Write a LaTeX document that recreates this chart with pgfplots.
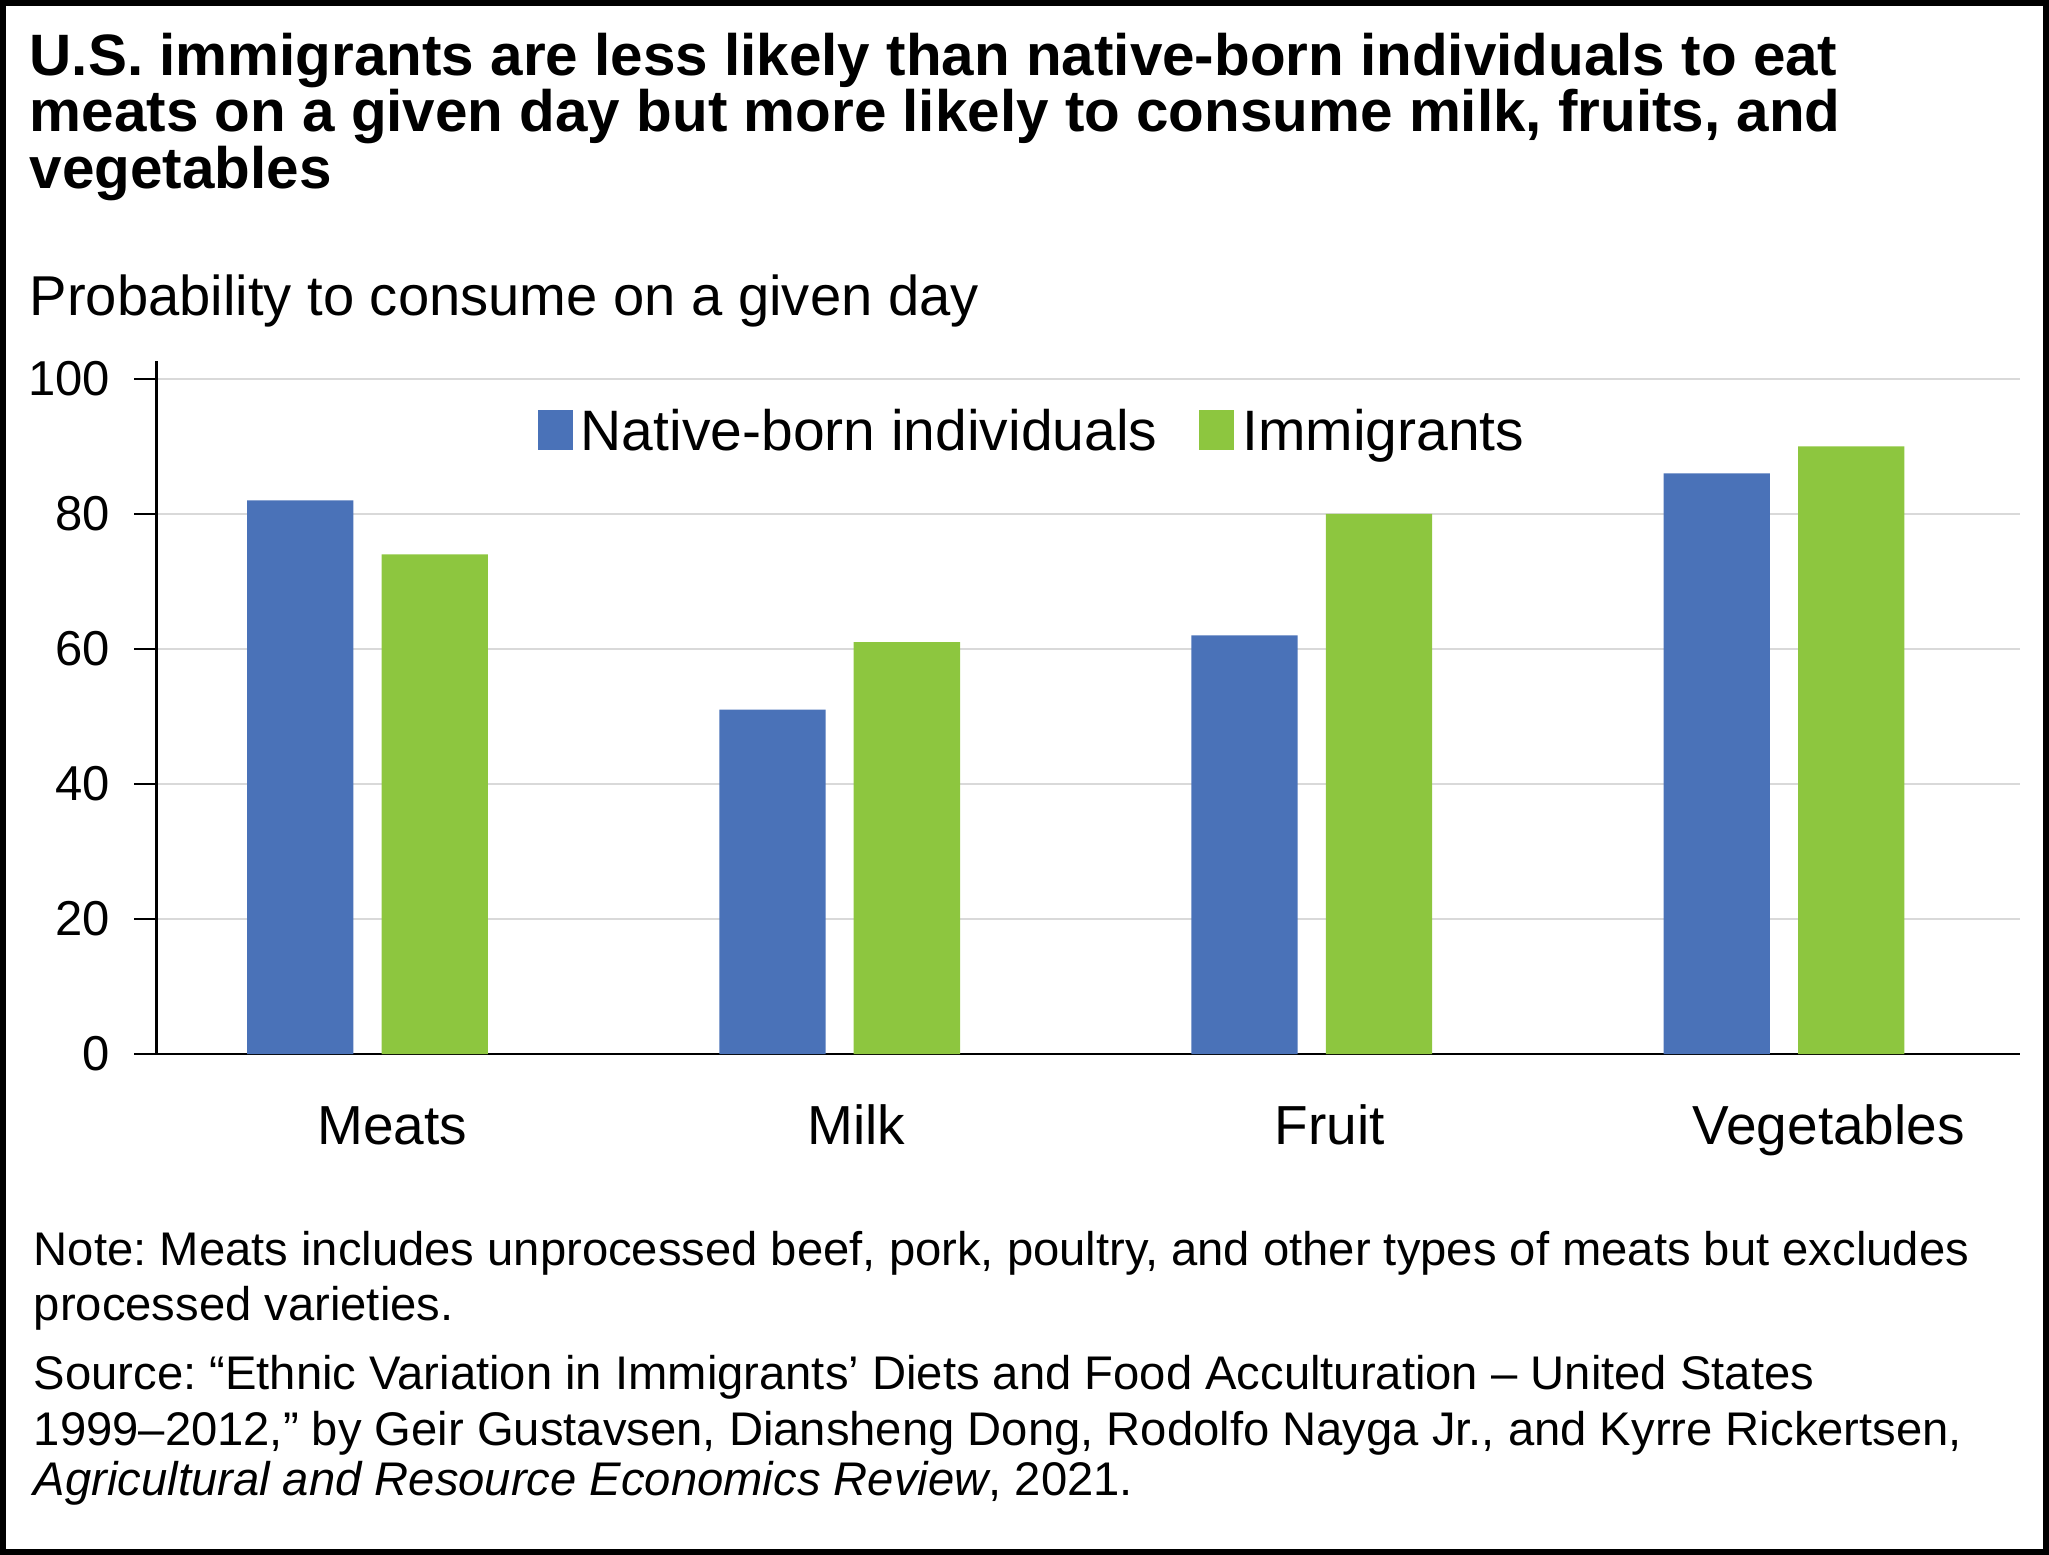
\documentclass[border=0pt]{standalone}
\usepackage{fontspec}
\setmainfont{Liberation Sans}
\usepackage{pgfplots}
\pgfplotsset{compat=1.18}
\definecolor{natblue}{HTML}{4A72B8}
\definecolor{immgreen}{HTML}{8DC63F}
\definecolor{gridgray}{HTML}{D9D9D9}
\frenchspacing
\begin{document}
\begin{tikzpicture}
\useasboundingbox (0,0) rectangle (512.25pt,-388.75pt);
\draw[line width=1.5pt] (0.75pt,-0.75pt) rectangle (511.5pt,-388pt);
% title
\begin{scope}[every node/.style={anchor=base west, inner sep=0pt, font=\fontsize{14.6}{17}\selectfont\bfseries}]
\node at (7.25pt,-18.75pt) {U.S. immigrants are less likely than native-born individuals to eat};
\node at (7.25pt,-32.93pt) {meats on a given day but more likely to consume milk, fruits, and};
\node at (7.25pt,-47pt) {vegetables};
\end{scope}
\node[anchor=base west, inner sep=0pt, font=\fontsize{14.04}{16}\selectfont] at (7.25pt,-78.75pt) {Probability to consume on a given day};
\begin{axis}[
  at={(39.125pt,-263.5pt)}, anchor=south west,
  scale only axis, width=465.875pt, height=173.33pt,
  xmin=-0.447, xmax=3.5, ymin=0, ymax=102.7,
  axis x line=bottom, axis y line=left,
  axis line style={-, line width=0.6pt, black},
  ytick={0,20,40,60,80,100},
  ymajorgrids, grid style={line width=0.5pt, gridgray},
  xtick={0.052,1.035,2.038,3.095},
  xticklabels={Meats,Milk,Fruit,Vegetables},
  x tick style={draw=none},
  y tick style={black, line width=0.6pt},
  major tick length=5.5pt, tick align=outside,
  /pgf/number format/assume math mode=true,
  xticklabel style={font=\fontsize{13.75}{16}\selectfont, anchor=base, inner sep=0pt, yshift=-17.1pt},
  yticklabel style={font=\fontsize{12.25}{14}\selectfont, anchor=east, inner sep=0pt, xshift=-5.95pt},
  ybar,
  legend style={at={(0.2042,0.8961)}, anchor=west, draw=none, fill=none, inner sep=0pt,
    font=\fontsize{14.25}{16}\selectfont, legend columns=2,
    nodes={inner sep=0pt},
    /tikz/every odd column/.append style={column sep=2pt},
    /tikz/every even column/.append style={column sep=10.45pt}},
  legend image code/.code={\fill[#1] (0pt,-4.4pt) rectangle (8.75pt,5.6pt);},
]
\addplot[ybar, fill=natblue, draw=none, bar width=0.2252, bar shift=-0.1424]
  coordinates {(0,82) (1,51) (2,62) (3,86)};
\addplot[ybar, fill=immgreen, draw=none, bar width=0.2252, bar shift=0.1424]
  coordinates {(0,74) (1,61) (2,80) (3,90)};
\legend{Native-born individuals, Immigrants}
\end{axis}
% notes
\begin{scope}[every node/.style={anchor=base west, inner sep=0pt, font=\fontsize{11.8}{14}\selectfont}]
\node at (8.25pt,-316.25pt) {Note: Meats includes unprocessed beef, pork, poultry, and other types of meats but excludes};
\node at (8.25pt,-330pt) {processed varieties.};
\node at (8.25pt,-347.3pt) {Source: “Ethnic Variation in Immigrants’ Diets and Food Acculturation – United States};
\node at (8.25pt,-361.25pt) {1999–2012,” by Geir Gustavsen, Diansheng Dong, Rodolfo Nayga Jr., and Kyrre Rickertsen,};
\node at (8.25pt,-373.75pt) {\textit{Agricultural and Resource Economics Review}, 2021.};
\end{scope}
\end{tikzpicture}
\end{document}
